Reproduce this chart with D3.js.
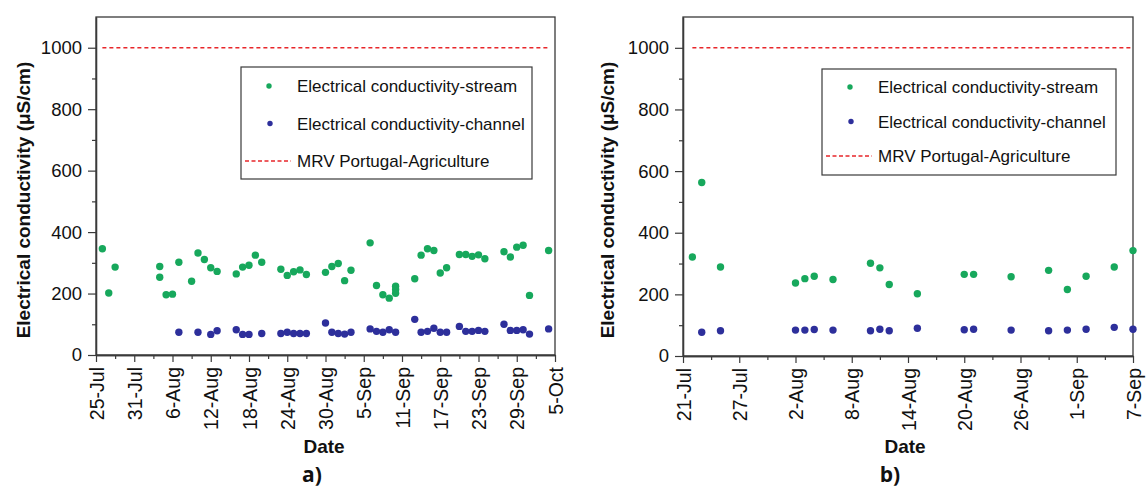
<!DOCTYPE html>
<html>
<head>
<meta charset="utf-8">
<script src="https://cdn.jsdelivr.net/npm/d3@7"></script>
<style>
  html, body { margin: 0; padding: 0; background: #ffffff; }
  svg { display: block; font-family: "Liberation Sans", Arial, sans-serif; }
</style>
</head>
<body>
<svg id="chart" width="1146" height="491"></svg>
<script>
// ---------------- DATA ----------------
const yTickValues = [0, 200, 400, 600, 800, 1000];
const limitValue = 1000;
const legendLabels = ["Electrical conductivity-stream", "Electrical conductivity-channel", "MRV Portugal-Agriculture"];
const yTitle = "Electrical conductivity (\u03bcS/cm)";
const xTitle = "Date";

// Panel a)
const axisStartA = "2019-07-25", axisEndA = "2019-10-05";
const streamDatesA = ["2019-07-26","2019-07-27","2019-07-28","2019-08-04","2019-08-04","2019-08-05","2019-08-06","2019-08-07","2019-08-09","2019-08-10","2019-08-11","2019-08-12","2019-08-13","2019-08-16","2019-08-17","2019-08-18","2019-08-19","2019-08-20","2019-08-23","2019-08-24","2019-08-25","2019-08-26","2019-08-27","2019-08-30","2019-08-31","2019-09-01","2019-09-02","2019-09-03","2019-09-06","2019-09-07","2019-09-08","2019-09-09","2019-09-10","2019-09-10","2019-09-10","2019-09-13","2019-09-14","2019-09-15","2019-09-16","2019-09-17","2019-09-18","2019-09-20","2019-09-21","2019-09-22","2019-09-23","2019-09-24","2019-09-27","2019-09-28","2019-09-29","2019-09-30","2019-10-01","2019-10-04"];
const streamValuesA = [346,202,286,288,253,196,198,302,240,332,311,284,272,264,286,292,325,302,279,259,271,277,262,269,288,298,242,276,365,226,196,185,224,213,201,248,325,346,340,267,284,327,327,321,326,313,336,319,351,357,194,340];
const channelDatesA = ["2019-08-07","2019-08-10","2019-08-12","2019-08-13","2019-08-16","2019-08-17","2019-08-18","2019-08-20","2019-08-23","2019-08-24","2019-08-25","2019-08-26","2019-08-27","2019-08-30","2019-08-31","2019-09-01","2019-09-02","2019-09-03","2019-09-06","2019-09-07","2019-09-08","2019-09-09","2019-09-10","2019-09-13","2019-09-14","2019-09-15","2019-09-16","2019-09-17","2019-09-18","2019-09-20","2019-09-21","2019-09-22","2019-09-23","2019-09-24","2019-09-27","2019-09-28","2019-09-29","2019-09-30","2019-10-01","2019-10-04"];
const channelValuesA = [74,74,67,79,82,67,67,70,70,74,70,70,70,104,74,70,68,74,85,77,74,82,74,116,74,77,87,74,74,93,77,77,80,77,100,80,80,82,68,85];
const limitDatesA = ["2019-07-26","2019-10-04"];

// Panel b)
const axisStartB = "2019-07-21", axisEndB = "2019-09-07";
const streamDatesB = ["2019-07-22","2019-07-23","2019-07-25","2019-08-02","2019-08-03","2019-08-04","2019-08-06","2019-08-10","2019-08-11","2019-08-12","2019-08-15","2019-08-20","2019-08-21","2019-08-25","2019-08-29","2019-08-31","2019-09-02","2019-09-05","2019-09-07"];
const streamValuesB = [321,563,289,237,251,259,248,301,286,232,202,265,265,257,278,216,259,289,342];
const channelDatesB = ["2019-07-23","2019-07-25","2019-08-02","2019-08-03","2019-08-04","2019-08-06","2019-08-10","2019-08-11","2019-08-12","2019-08-15","2019-08-20","2019-08-21","2019-08-25","2019-08-29","2019-08-31","2019-09-02","2019-09-05","2019-09-07"];
const channelValuesB = [77,82,84,84,86,84,82,87,82,90,85,87,84,82,84,87,93,87];
const limitDatesB = ["2019-07-22","2019-09-07"];

const panelLabels = ["a)", "b)"];

// ---------------- DRAW ----------------
const FONT = "'Liberation Sans', Arial, sans-serif";
const parse = d3.timeParse("%Y-%m-%d");
const fmt = d3.timeFormat("%-d-%b");
const svg = d3.select("#chart");
svg.append("rect").attr("width", 1146).attr("height", 491).attr("fill", "#fff");

const GREEN = "#17a85c", BLUE = "#2d2f9b", RED = "#e8262a", AX = "#3a3a3a";

function drawPanel(p) {
  const g = svg.append("g");
  const x = d3.scaleTime().domain([parse(p.start), parse(p.end)]).range([p.left, p.right]);
  const y = d3.scaleLinear().domain([0, 1100]).range([p.bottom, p.top]);
  const nDays = d3.timeDay.count(parse(p.start), parse(p.end));
  const major = d3.range(0, nDays + 1, 6).map(d => d3.timeDay.offset(parse(p.start), d));
  const minor = d3.range(3, nDays + 1, 6).map(d => d3.timeDay.offset(parse(p.start), d));

  // frame
  g.append("rect").attr("x", p.left).attr("y", p.top)
    .attr("width", p.right - p.left).attr("height", p.bottom - p.top)
    .attr("fill", "none").attr("stroke", AX).attr("stroke-width", 1.3);

  // y axis
  const ya = g.append("g").attr("transform", `translate(${p.left},0)`)
    .call(d3.axisLeft(y).tickValues(yTickValues).tickFormat(d3.format("d")).tickSize(8).tickSizeOuter(0).tickPadding(6));
  g.append("g").attr("transform", `translate(${p.left},0)`)
    .call(d3.axisLeft(y).tickValues([100, 300, 500, 700, 900]).tickSize(4).tickSizeOuter(0).tickFormat(""));
  // x axis
  const xa = g.append("g").attr("transform", `translate(0,${p.bottom})`)
    .call(d3.axisBottom(x).tickValues(major).tickFormat(fmt).tickSize(7).tickSizeOuter(0));
  g.append("g").attr("transform", `translate(0,${p.bottom})`)
    .call(d3.axisBottom(x).tickValues(minor).tickSize(4).tickSizeOuter(0).tickFormat(""));
  g.selectAll(".domain").attr("stroke", AX).attr("stroke-width", 1.3);
  g.selectAll(".tick line").attr("stroke", AX).attr("stroke-width", 1.2);
  ya.selectAll("text").attr("font-size", 18.5).attr("fill", "#111").attr("font-family", FONT);
  xa.selectAll("text")
    .attr("transform", "rotate(-90)")
    .attr("text-anchor", "end")
    .attr("x", -12).attr("y", 0).attr("dy", "0.36em")
    .attr("font-size", 19.5).attr("fill", "#111").attr("font-family", FONT);

  // limit line
  g.append("line")
    .attr("x1", x(parse(p.limitDates[0]))).attr("x2", x(parse(p.limitDates[1])))
    .attr("y1", y(limitValue)).attr("y2", y(limitValue))
    .attr("stroke", RED).attr("stroke-width", 1.6).attr("stroke-dasharray", "4,3");

  // points
  g.selectAll("circle.s").data(p.sDates.map((d, i) => [d, p.sVals[i]])).join("circle")
    .attr("class", "s").attr("cx", d => x(parse(d[0]))).attr("cy", d => y(d[1]))
    .attr("r", 3.7).attr("fill", GREEN);
  g.selectAll("circle.c").data(p.cDates.map((d, i) => [d, p.cVals[i]])).join("circle")
    .attr("class", "c").attr("cx", d => x(parse(d[0]))).attr("cy", d => y(d[1]))
    .attr("r", 3.7).attr("fill", BLUE);

  // legend
  const L = p.legend;
  g.append("rect").attr("x", L.x).attr("y", L.y).attr("width", L.w).attr("height", L.h)
    .attr("fill", "#fff").attr("stroke", AX).attr("stroke-width", 1.2);
  const rows = [L.y + L.r0, L.y + L.r0 + L.dy, L.y + L.r0 + 2 * L.dy];
  g.append("circle").attr("cx", L.x + 28).attr("cy", rows[0]).attr("r", 2.7).attr("fill", GREEN);
  g.append("circle").attr("cx", L.x + 29).attr("cy", rows[1]).attr("r", 2.7).attr("fill", BLUE);
  g.append("line").attr("x1", L.x + 4).attr("x2", L.x + 50).attr("y1", rows[2]).attr("y2", rows[2])
    .attr("stroke", RED).attr("stroke-width", 1.5).attr("stroke-dasharray", "4,2.5");
  legendLabels.forEach((t, i) => {
    g.append("text").attr("x", L.x + 56).attr("y", rows[i]).attr("dy", "0.36em")
      .attr("font-size", 17).attr("fill", "#111").attr("font-family", FONT).text(t);
  });

  // titles
  g.append("text").attr("transform", `translate(${p.yTitleX},${p.yTitleY}) rotate(-90)`)
    .attr("text-anchor", "middle").attr("dy", "0.36em").attr("font-family", FONT)
    .attr("font-size", 19).attr("font-weight", "bold").attr("fill", "#111").text(yTitle);
  g.append("text").attr("x", p.xTitleX).attr("y", 453).attr("text-anchor", "middle").attr("font-family", FONT)
    .attr("font-size", 19).attr("font-weight", "bold").attr("fill", "#111").text(xTitle);
  g.append("text").attr("x", p.labelX).attr("y", 482).attr("text-anchor", "middle")
    .attr("font-size", 21).attr("font-weight", "bold").attr("fill", "#111")
    .attr("font-family", "'Open Sans', Arial, sans-serif").text(p.label);
}

drawPanel({
  start: axisStartA, end: axisEndA, left: 96, right: 555, top: 17, bottom: 355,
  sDates: streamDatesA, sVals: streamValuesA, cDates: channelDatesA, cVals: channelValuesA,
  limitDates: limitDatesA,
  legend: { x: 241, y: 67, w: 291, h: 112, r0: 19, dy: 37.5 },
  yTitleX: 23, yTitleY: 200, xTitleX: 324, labelX: 312, label: panelLabels[0]
});
drawPanel({
  start: axisStartB, end: axisEndB, left: 683, right: 1133, top: 17, bottom: 356,
  sDates: streamDatesB, sVals: streamValuesB, cDates: channelDatesB, cVals: channelValuesB,
  limitDates: limitDatesB,
  legend: { x: 822, y: 69, w: 294, h: 106, r0: 18, dy: 34.5 },
  yTitleX: 607, yTitleY: 200, xTitleX: 905, labelX: 890, label: panelLabels[1]
});
</script>
</body>
</html>
